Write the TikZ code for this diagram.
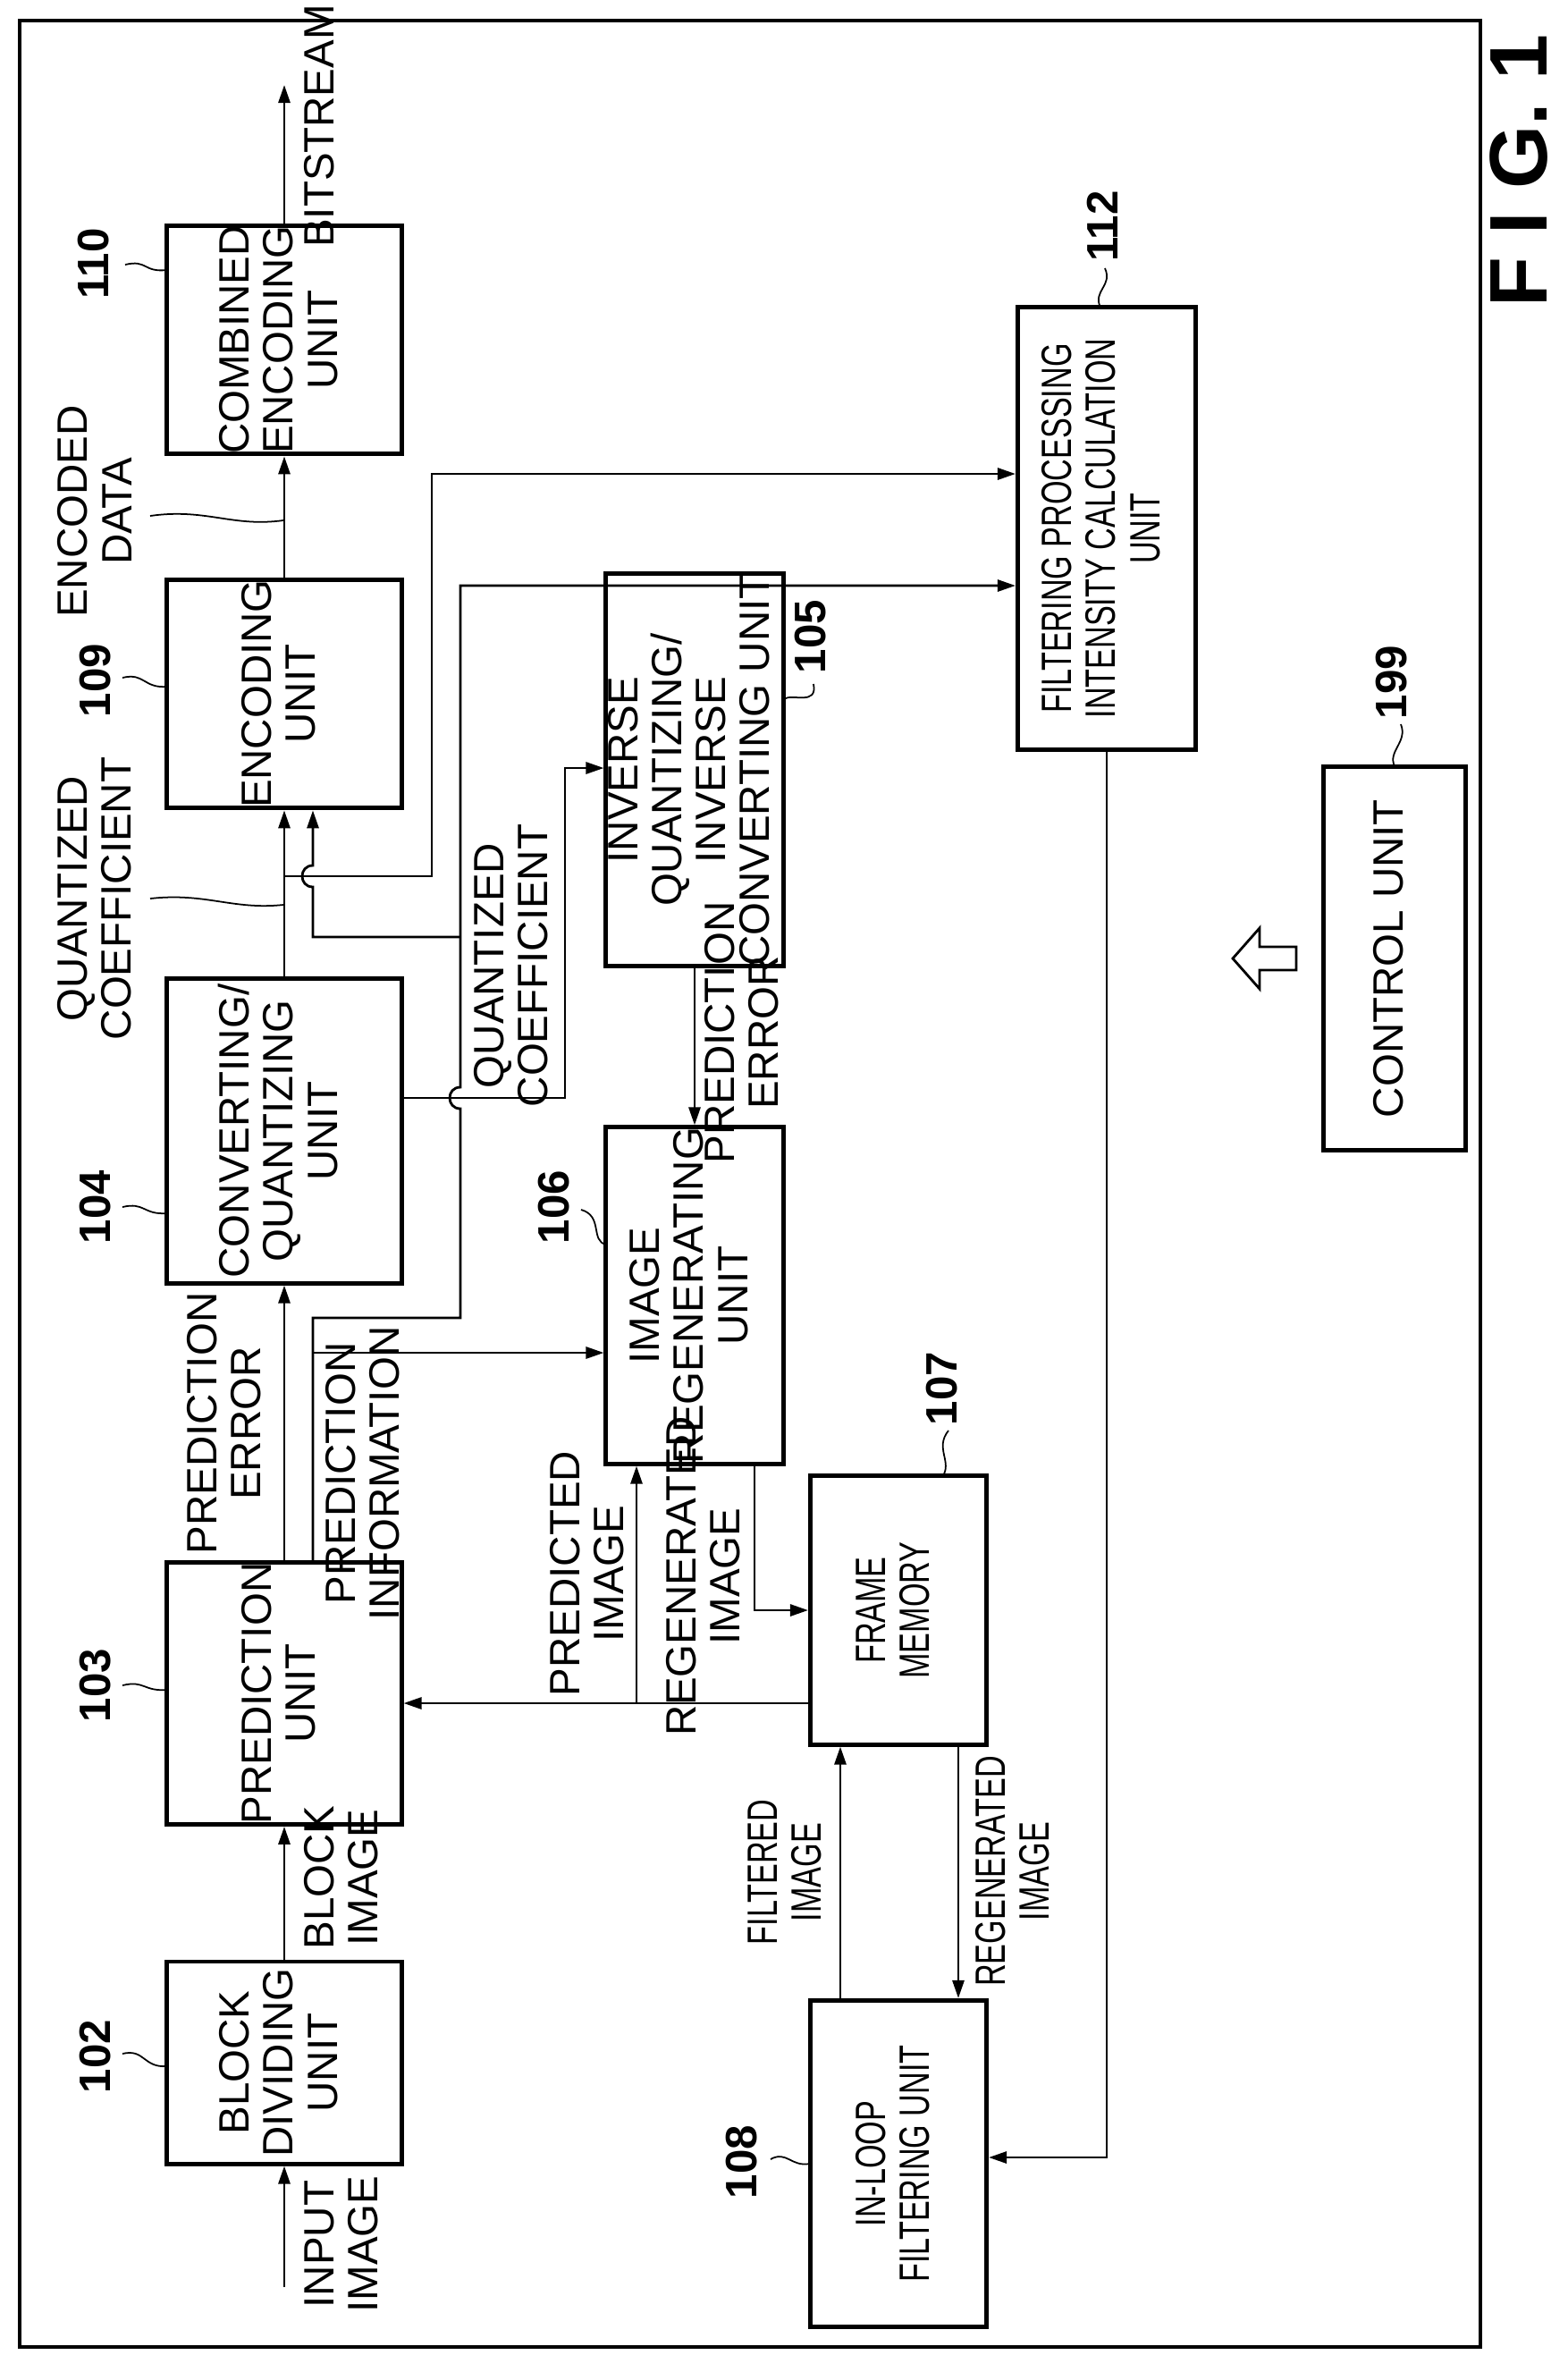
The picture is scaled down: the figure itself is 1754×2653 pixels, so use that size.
\documentclass[tikz,border=0pt]{standalone}
\usepackage{fontspec}
\setmainfont{Liberation Sans}
\newfontfamily\narrowfont[FakeStretch=0.72]{Liberation Sans}
\usetikzlibrary{arrows.meta}
\newcommand{\vt}[1]{\rotatebox{90}{\begin{tabular}{@{}c@{}}#1\end{tabular}}}

\tikzset{
  box/.style={draw, line width=1.4pt, inner sep=0pt, font=\fontsize{13.5}{14}\selectfont},
  wire/.style={line width=0.8pt},
  arr/.style={wire, -{Triangle[length=2mm,width=1.3mm]}},
  lbl/.style={rotate=90, align=center, inner sep=0pt, font=\fontsize{13.5}{14}\selectfont},
  nlbl/.style={lbl, font=\narrowfont\fontsize{13.5}{14}\selectfont},
  num/.style={rotate=90, inner sep=0pt, font=\bfseries\fontsize{14}{14}\selectfont},
  lead/.style={line width=0.5pt}
}

\begin{document}
\begin{tikzpicture}[x=0.01cm, y=-0.01cm]
  \useasboundingbox (0,0) rectangle (1754,2653);
  \draw[line width=1.2pt] (22,23) rectangle (1656,2625);

  % units
  \node[box, minimum width=2.62cm, minimum height=2.37cm] (comb) at (318,380) {\vt{COMBINED\\ENCODING\\UNIT}};
  \node[box, minimum width=2.62cm, minimum height=2.31cm] (enc) at (318,776) {\vt{ENCODING\\UNIT}};
  \node[box, minimum width=2.62cm, minimum height=3.40cm] (conv) at (318,1265) {\vt{CONVERTING/\\QUANTIZING\\UNIT}};
  \node[box, minimum width=2.62cm, minimum height=2.28cm] (pred) at (318,1894) {\vt{PREDICTION\\UNIT}};
  \node[box, minimum width=2.62cm, minimum height=2.26cm] (blk) at (318,2307) {\vt{BLOCK\\DIVIDING\\UNIT}};
  \node[box, minimum width=1.98cm, minimum height=3.46cm] (inv) at (777,861) {\vt{INVERSE\\QUANTIZING/\\INVERSE\\CONVERTING UNIT}};
  \node[box, minimum width=1.98cm, minimum height=3.32cm] (regen) at (777,1449) {\vt{IMAGE\\REGENERATING\\UNIT}};
  \node[box, minimum width=1.97cm, minimum height=3.00cm, font=\narrowfont\fontsize{13.5}{14}\selectfont] (fmem) at (1005,1801) {\vt{FRAME\\MEMORY}};
  \node[box, minimum width=1.97cm, minimum height=3.65cm, font=\narrowfont\fontsize{13.5}{14}\selectfont] (loop) at (1005,2420) {\vt{IN-LOOP\\FILTERING UNIT}};
  \node[box, minimum width=1.99cm, minimum height=4.94cm, font=\narrowfont\fontsize{13.5}{14}\selectfont] (filt) at (1238,591) {\vt{FILTERING PROCESSING\\INTENSITY CALCULATION\\UNIT}};
  \node[box, minimum width=1.59cm, minimum height=4.29cm] (ctrl) at (1560,1072) {\vt{CONTROL UNIT}};

  % reference numbers
  \node[num] (n110) at (105,295) {110};
  \node[num] (n109) at (107,761) {109};
  \node[num] (n104) at (107,1350) {104};
  \node[num] (n103) at (107,1885) {103};
  \node[num] (n102) at (107,2300) {102};
  \node[num] (n105) at (907,712) {105};
  \node[num] (n106) at (620,1350) {106};
  \node[num] (n107) at (1054,1553) {107};
  \node[num] (n108) at (830,2418) {108};
  \node[num] (n112) at (1233,253) {112};
  \node[num] (n199) at (1557,763) {199};
  \node[rotate=90, inner sep=0pt, font=\bfseries\fontsize{26}{26}\selectfont] (fig) at (1699,191) {F I G. 1};

  \draw[lead] (140,296) .. controls (165,290) and (160,305) .. (187,302);
  \draw[lead] (137,758) .. controls (162,752) and (160,770) .. (187,768);
  \draw[lead] (137,1350) .. controls (162,1344) and (160,1359) .. (187,1357);
  \draw[lead] (137,1885) .. controls (162,1879) and (160,1892) .. (187,1890);
  \draw[lead] (137,2297) .. controls (162,2291) and (160,2313) .. (187,2311);
  \draw[lead] (910,765) .. controls (915,790) and (885,775) .. (877,782);
  \draw[lead] (650,1353) .. controls (675,1360) and (660,1388) .. (678,1392);
  \draw[lead] (1061,1600) .. controls (1045,1620) and (1066,1635) .. (1054,1652);
  \draw[lead] (862,2415) .. controls (880,2405) and (885,2424) .. (906,2420);
  \draw[lead] (1236,300) .. controls (1245,320) and (1222,325) .. (1231,344);
  \draw[lead] (1567,810) .. controls (1575,830) and (1552,840) .. (1560,857);

  % signal labels
  \node[lbl] (lIn) at (382,2510) {INPUT\\IMAGE};
  \node[lbl] (lBlk) at (382,2100) {BLOCK\\IMAGE};
  \node[lbl] (lPerr) at (251,1592) {PREDICTION\\ERROR};
  \node[lbl] (lPinf) at (406,1648) {PREDICTION\\INFORMATION};
  \node[lbl] (lQc) at (106,1005) {QUANTIZED\\COEFFICIENT};
  \node[lbl] (lQc2) at (572,1080) {QUANTIZED\\COEFFICIENT};
  \node[lbl] (lEnc) at (106,572) {ENCODED\\DATA};
  \node[lbl] (lBs) at (357,141) {BITSTREAM};
  \node[lbl] (lPerr2) at (830,1155) {PREDICTION\\ERROR};
  \node[lbl] (lPimg) at (657,1760) {PREDICTED\\IMAGE};
  \node[lbl] (lRimg) at (787,1763) {REGENERATED\\IMAGE};
  \node[nlbl] (lFimg) at (878,2094) {FILTERED\\IMAGE};
  \node[nlbl] (lRimg2) at (1133,2093) {REGENERATED\\IMAGE};

  \draw[lead] (168,577) .. controls (230,568) and (260,590) .. (317,582);
  \draw[lead] (168,1005) .. controls (230,998) and (260,1018) .. (317,1012);

  % connectors
  \coordinate (in) at (318,2558);
  \coordinate (bs) at (318,95);
  \coordinate (qc) at (317,980);
  \coordinate (pinf) at (350,1474);
  \coordinate (pimg) at (712,1905);

  \draw[arr] (in) -- (blk.south);
  \draw[arr] (blk.north) -- (pred.south);
  \draw[arr] (pred.north) -- (conv.south);
  \draw[arr] (conv.north) -- (enc.south);
  \draw[arr] (enc.north) -- (comb.south);
  \draw[arr] (comb.north) -- (bs);
  \draw[arr] (qc) -| (483,530) -- (filt.west |- 0,530);
  \draw[arr] (pred.north -| pinf) -- (pinf) -- (515,1474) -- (515,1240)
    .. controls (499,1240) and (499,1216) .. (515,1216) -- (515,655) -- (filt.west |- 0,655);
  \draw[arr] (515,1048) -- (350,1048) -- (350,992)
    .. controls (334,992) and (334,968) .. (350,968) -- (enc.south -| 350,0);
  \draw[arr] (350,1513) -- (regen.west |- 0,1513);
  \draw[arr] (conv.east |- 0,1228) -- (632,1228) -- (632,859) -- (inv.west |- 0,859);
  \draw[arr] (inv.south) -- (regen.north);
  \draw[arr] (regen.south -| 844,0) |- (fmem.west);
  \draw[arr] (fmem.west |- pimg) -- (pred.east |- pimg);
  \draw[arr] (pimg) -- (regen.south -| pimg);
  \draw[arr] (fmem.south -| 1072,0) -- (loop.north -| 1072,0);
  \draw[arr] (loop.north -| 940,0) -- (fmem.south -| 940,0);
  \draw[arr] (filt.south) |- (loop.east |- 0,2413);

  % control arrow
  \draw[wire] (1379,1072) -- (1409,1038) -- (1409,1059) -- (1450,1059)
    -- (1450,1085) -- (1409,1085) -- (1409,1106) -- cycle;
\end{tikzpicture}
\end{document}
